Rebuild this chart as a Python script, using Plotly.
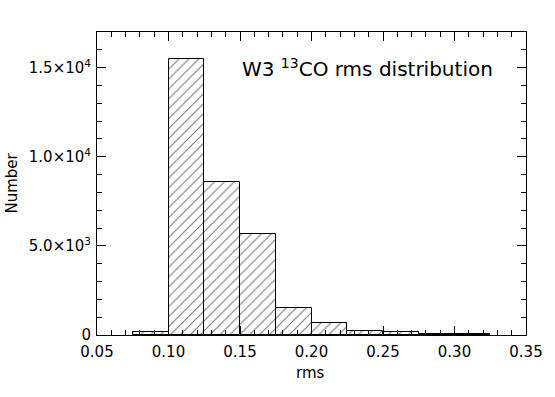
import plotly.graph_objects as go

bin_left = [0.075, 0.100, 0.125, 0.150, 0.175, 0.200, 0.225, 0.250, 0.275, 0.300]
counts = [150, 15500, 8600, 5690, 1490, 650, 200, 150, 70, 50]
bin_width = 0.025

x_tickvals = [0.05, 0.10, 0.15, 0.20, 0.25, 0.30, 0.35]
x_ticktext = ["0.05", "0.10", "0.15", "0.20", "0.25", "0.30", "0.35"]
y_tickvals = [0, 5000, 10000, 15000]
y_ticktext = ["0", "5.0×10<sup>3</sup>", "1.0×10<sup>4</sup>", "1.5×10<sup>4</sup>"]

centers = [b + bin_width / 2 for b in bin_left]

fig = go.Figure(go.Bar(
    x=centers, y=counts, width=[bin_width] * len(centers),
    marker=dict(color="white", line=dict(color="black", width=1),
                pattern=dict(shape="/", size=7, solidity=0.17, fgcolor="black", bgcolor="white")),
))

FAM = "DejaVu Sans, Verdana, sans-serif"
font = dict(family=FAM, size=15, color="black")

fig.update_layout(
    width=555, height=397,
    margin=dict(l=97, r=29, t=32, b=62),
    plot_bgcolor="white", paper_bgcolor="white",
    showlegend=False, bargap=0,
    font=font,
    xaxis=dict(range=[0.05, 0.35], tickvals=x_tickvals, ticktext=x_ticktext, automargin=False,
               ticks="inside", ticklen=9, tickcolor="black", showline=True, linecolor="black",
               linewidth=1, mirror="allticks", showgrid=False, zeroline=False,
               minor=dict(ticks="inside", ticklen=5, dtick=0.01, tick0=0.05, tickcolor="black", showgrid=False),
               ticklabelstandoff=3,
               tickfont=dict(size=15, family=FAM)),
    yaxis=dict(range=[0, 17000], tickvals=y_tickvals, ticktext=y_ticktext, automargin=False,
               ticks="inside", ticklen=9, tickcolor="black", showline=True, linecolor="black",
               linewidth=1, mirror="allticks", showgrid=False, zeroline=False,
               minor=dict(ticks="inside", ticklen=5, dtick=1000, tick0=0, tickcolor="black", showgrid=False),
               ticklabelstandoff=2,
               tickfont=dict(size=15, family=FAM)),
    annotations=[
        dict(text="W3 <sup>13</sup>CO rms distribution", xref="paper", yref="paper",
             x=0.333, y=0.881, xanchor="left", yanchor="middle", showarrow=False,
             font=dict(size=20, color="black", family=FAM)),
        dict(text="rms", xref="paper", yref="paper", x=0.497, y=0, yshift=-38,
             xanchor="center", yanchor="middle", showarrow=False,
             font=dict(size=15, color="black", family=FAM)),
        dict(text="Number", xref="paper", yref="paper", x=0, y=0.5, xshift=-86,
             textangle=-90, xanchor="center", yanchor="middle", showarrow=False,
             font=dict(size=15, color="black", family=FAM)),
    ],
)

# remove the browser's default 8px body margin so the figure fills the window exactly
fig.write_html("out.html", config={"displayModeBar": False},
               post_script="document.body.style.margin='0';document.body.style.overflow='hidden';")
